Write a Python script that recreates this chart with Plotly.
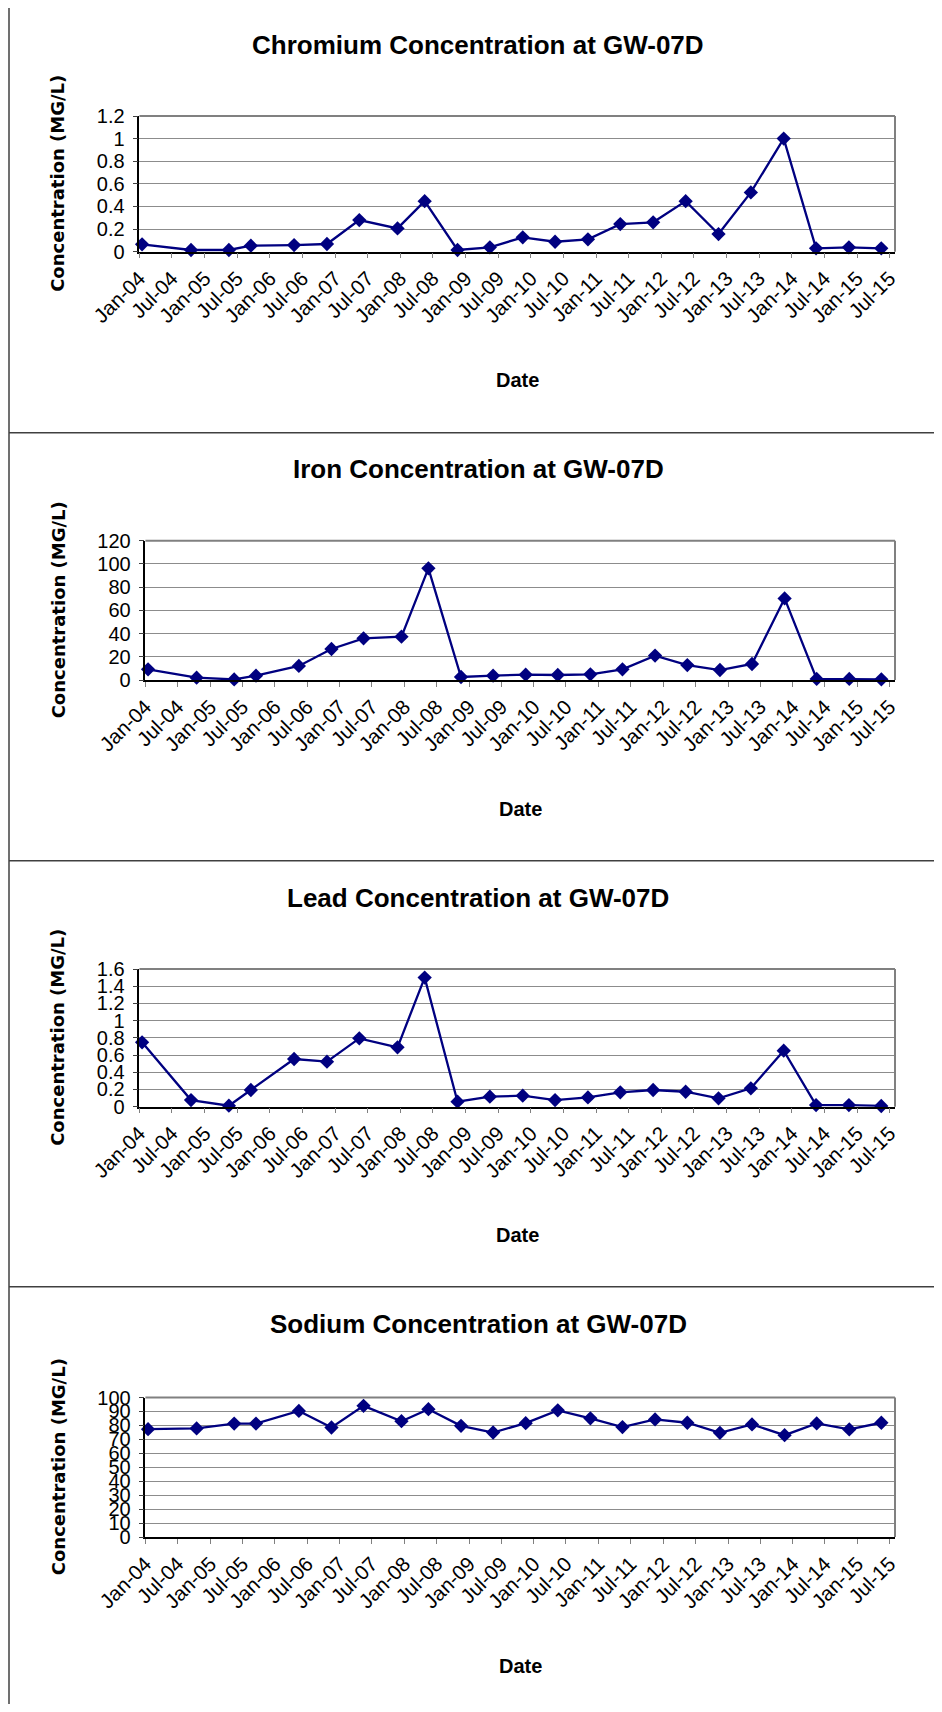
import plotly.graph_objects as go

# ---------------- data ----------------
dates = [
    "2004-01-16", "2004-10-16", "2005-05-16", "2005-09-16", "2006-05-16",
    "2006-11-16", "2007-05-16", "2007-12-16", "2008-05-16", "2008-11-16",
    "2009-05-16", "2009-11-16", "2010-05-16", "2010-11-16", "2011-05-16",
    "2011-11-16", "2012-05-16", "2012-11-16", "2013-05-16", "2013-11-16",
    "2014-05-16", "2014-11-16", "2015-05-16",
]
chromium = [0.065, 0.015, 0.015, 0.053, 0.059, 0.068, 0.28, 0.206, 0.447, 0.015,
            0.039, 0.127, 0.088, 0.109, 0.244, 0.26, 0.447, 0.156, 0.524, 1.0,
            0.03, 0.039, 0.03]
iron = [9.2, 2.0, 0.5, 3.7, 12.1, 26.7, 35.9, 37.3, 96.2, 2.6,
        3.7, 4.6, 4.3, 4.9, 9.2, 21.0, 12.9, 8.6, 13.8, 70.3,
        0.9, 0.9, 0.6]
lead = [0.748, 0.077, 0.012, 0.194, 0.554, 0.523, 0.794, 0.69, 1.5, 0.058,
        0.116, 0.128, 0.077, 0.108, 0.167, 0.194, 0.174, 0.097, 0.213, 0.651,
        0.019, 0.019, 0.008]
sodium = [77.3, 77.8, 81.3, 81.3, 90.4, 78.5, 94.0, 83.0, 91.6, 79.7,
          74.9, 81.6, 90.8, 85.1, 78.8, 84.3, 81.9, 74.7, 80.7, 73.0,
          81.4, 77.1, 81.9]

titles = ["Chromium Concentration at GW-07D", "Iron Concentration at GW-07D",
          "Lead Concentration at GW-07D", "Sodium Concentration at GW-07D"]
series = [chromium, iron, lead, sodium]
y_ranges = [[0, 1.2], [0, 120], [0, 1.6], [0, 100]]
y_dticks = [0.2, 20, 0.2, 10]
y_label = "Concentration (MG/L)"
x_label = "Date"
x_range = ["2004-01-01", "2015-08-01"]

# ---------------- layout geometry (screen pixels) ----------------
OFF = 8                      # default page body margin
FW, FH = 942 - 2 * OFF, 1712 - 2 * OFF
plot_left = [139.4, 145.4, 139.4, 145.4]
plot_right = 895.0
plot_top = [116.0, 540.7, 969.0, 1397.5]
plot_bottom = [251.7, 680.0, 1106.7, 1537.0]
title_y = [45.0, 469.3, 898.3, 1324.3]
panel_lines = [7.3, 432.7, 860.7, 1286.7]
frame_left = 9.0


def px(x):
    return (x - OFF) / FW


def py(y):
    return 1 - (y - OFF) / FH


FONT = "Liberation Sans, Arial, sans-serif"
NAVY = "#000080"

fig = go.Figure()
layout = dict(
    width=FW, height=FH, margin=dict(l=0, r=0, t=0, b=0, pad=0), autosize=False,
    paper_bgcolor="white", plot_bgcolor="white", showlegend=False,
    font=dict(family=FONT, color="black"),
)
annotations = []
shapes = []

for i in range(4):
    ax = "" if i == 0 else str(i + 1)
    fig.add_trace(go.Scatter(
        x=dates, y=series[i], mode="lines+markers",
        line=dict(color=NAVY, width=2.3),
        marker=dict(symbol="diamond", size=11, color=NAVY),
        xaxis="x" + ax, yaxis="y" + ax, cliponaxis=False,
    ))
    xd = [px(plot_left[i]), px(plot_right)]
    yd = [py(plot_bottom[i]), py(plot_top[i])]
    layout["xaxis" + ax] = dict(
        domain=xd, anchor="y" + ax, type="date", range=x_range, automargin=False,
        tick0="2004-01-01", dtick="M6", tickformat="%b-%y", tickangle=-45,
        ticks="outside", ticklen=5, tickcolor="#808080",
        showline=True, linecolor="black", linewidth=1.5,
        showgrid=False, zeroline=False,
        tickfont=dict(family=FONT, size=20.5, color="black"),
    )
    layout["yaxis" + ax] = dict(
        domain=yd, anchor="x" + ax, range=y_ranges[i], dtick=y_dticks[i],
        tick0=0, ticks="outside", ticklen=5, tickcolor="#404040", automargin=False,
        showline=True, linecolor="black", linewidth=1.5,
        showgrid=True, gridcolor="#8c8c8c", gridwidth=1, zeroline=False,
        tickfont=dict(family=FONT, size=20, color="black"),
        ticklabelstandoff=4,
    )
    # top and right plot-area borders (grey)
    shapes.append(dict(type="line", xref="x" + ax + " domain", yref="y" + ax + " domain",
                       x0=0, x1=1, y0=1, y1=1, line=dict(color="#808080", width=2)))
    shapes.append(dict(type="line", xref="x" + ax + " domain", yref="y" + ax + " domain",
                       x0=1, x1=1, y0=0, y1=1, line=dict(color="#808080", width=2)))
    # chart title
    annotations.append(dict(
        text="<b>" + titles[i] + "</b>", xref="paper", yref="paper",
        x=px(478), y=py(title_y[i]), xanchor="center", yanchor="middle",
        showarrow=False, font=dict(family=FONT, size=26, color="black"),
    ))
    # y-axis title
    annotations.append(dict(
        text="<b>" + y_label + "</b>", xref="paper", yref="paper",
        x=px(58), y=py((plot_top[i] + plot_bottom[i]) / 2),
        xanchor="center", yanchor="middle", textangle=-90, showarrow=False,
        font=dict(family="DejaVu Sans, Verdana, sans-serif", size=18, color="black"),
    ))
    # x-axis title
    annotations.append(dict(
        text="<b>" + x_label + "</b>", xref="paper", yref="paper",
        x=px((plot_left[i] + plot_right) / 2), y=py(plot_bottom[i] + 128.5),
        xanchor="center", yanchor="middle", showarrow=False,
        font=dict(family=FONT, size=20, color="black"),
    ))

# panel frame lines
for yl in panel_lines:
    shapes.append(dict(type="line", xref="paper", yref="paper",
                       x0=px(frame_left), x1=1, y0=py(yl), y1=py(yl),
                       line=dict(color="#404040", width=1.5)))
shapes.append(dict(type="line", xref="paper", yref="paper",
                   x0=px(frame_left), x1=px(frame_left), y0=0, y1=py(panel_lines[0]),
                   line=dict(color="#404040", width=1.5)))

layout["annotations"] = annotations
layout["shapes"] = shapes
fig.update_layout(**layout)
fig.write_html("out.html")
